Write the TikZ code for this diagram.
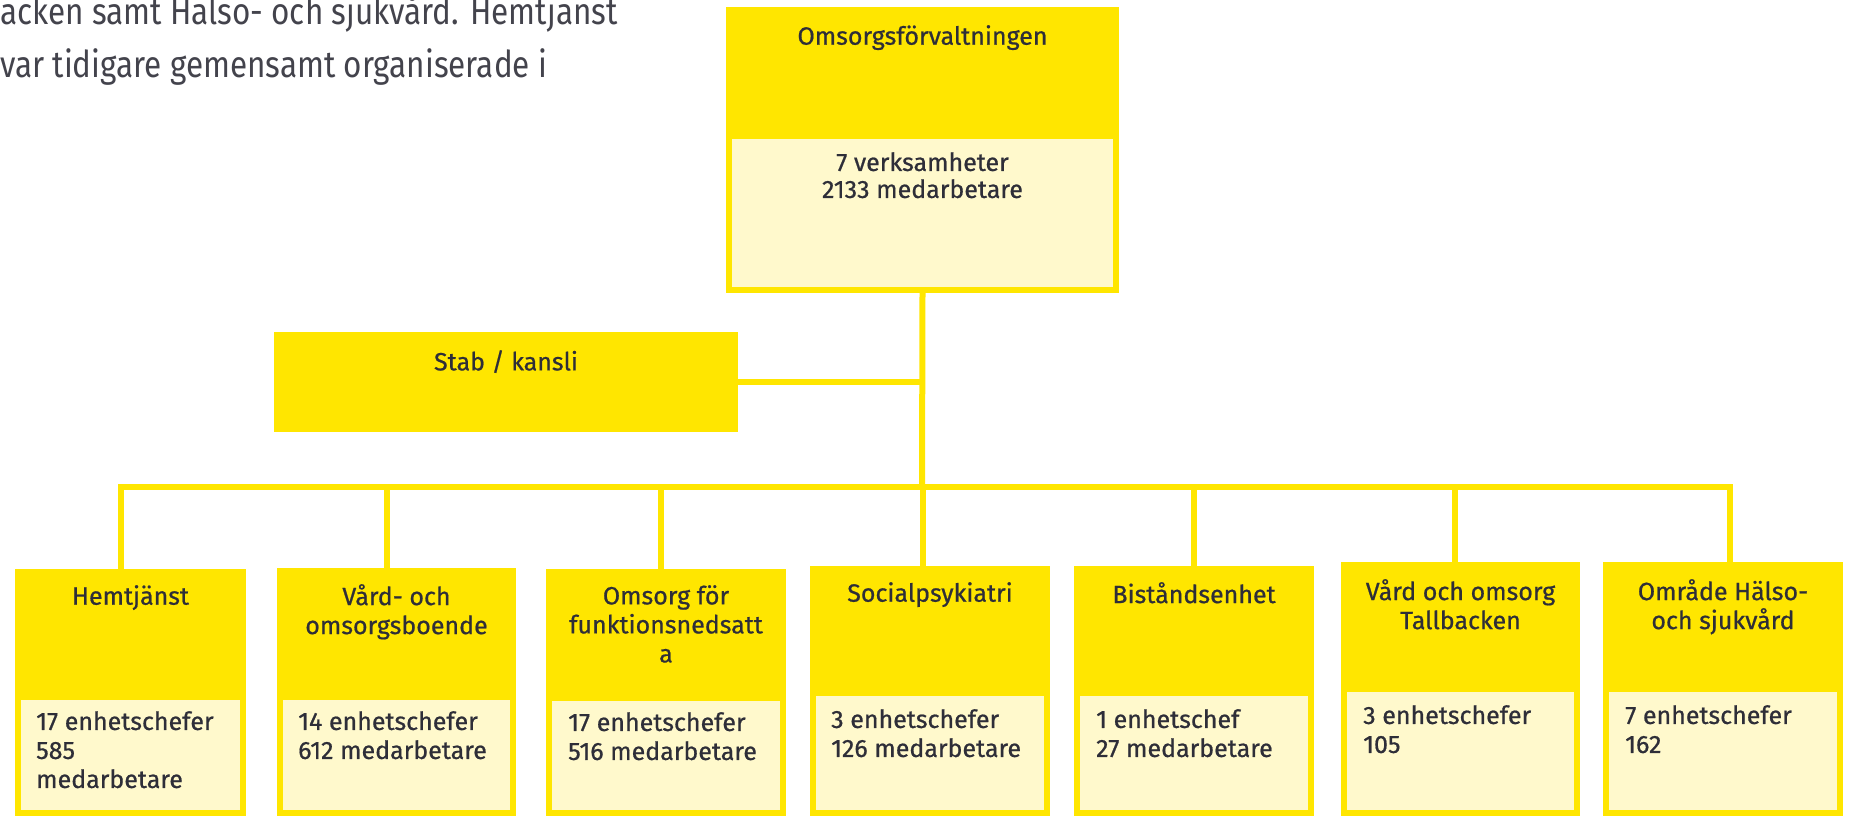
\documentclass[tikz,border=0pt]{standalone}
\usepackage{fontspec}
\setmainfont{Fira Sans}[FakeBold=0.7]
\newfontfamily\brodfont[FakeStretch=0.85]{Fira Sans}
\usetikzlibrary{positioning}
\definecolor{eygul}{HTML}{FFE600}
\definecolor{ljusgul}{HTML}{FFF9CC}
\definecolor{morkgra}{HTML}{2E2E38}
\newcommand\rutfont{\fontsize{25}{29}\selectfont}
\tikzset{
  ruta/.style={
    fill=eygul,
    anchor=north west,
    inner sep=0pt,
    outer sep=0pt
  },
  falt/.style={
    fill=ljusgul,
    draw=eygul,
    line width=6pt,
    anchor=north west,
    inner sep=0pt,
    outer sep=0pt
  },
  rubrik/.style={
    align=center,
    inner sep=0pt,
    text=morkgra,
    font=\rutfont
  },
  siffror/.style={
    align=left,
    inner sep=0pt,
    text=morkgra,
    font=\rutfont
  },
  brod/.style={
    anchor=base west,
    inner sep=0pt,
    text=morkgra!90,
    font=\brodfont\fontsize{37}{42}\selectfont
  },
  linje/.style={
    draw=eygul,
    line width=6pt
  }
}

\begin{document}
\begin{tikzpicture}[x=1pt,y=-1pt]
\useasboundingbox[fill=white] (0,0) rectangle (1853,818);

% brodtext
\node[brod] (rad1) at (0,25) {acken samt Hälso- och sjukvård. Hemtjänst};
\node[brod] (rad2) at (0,78) {var tidigare gemensamt organiserade i};

% forvaltningen
\node[ruta, minimum width=393pt, minimum height=286pt] (forv) at (726,7) {};
\node[falt, minimum width=387pt, minimum height=154pt] (forvf) at (729,136) {};
\node[rubrik, below=18pt of forv.north] (forvr) {Omsorgsförvaltningen};
\node[rubrik, font=\fontsize{25}{27}\selectfont, below=16pt of forvf.north] (forvs) {7 verksamheter\\2133 medarbetare};

\node[ruta, minimum width=464pt, minimum height=100pt] (stab) at (274,332) {};
\node[rubrik, below=18pt of stab.north] (stabr) {Stab / kansli};

% verksamheterna
\node[ruta, minimum width=231pt, minimum height=247pt] (hem) at (15,569) {};
\node[falt, minimum width=225pt, minimum height=116pt] (hemf) at (18,697) {};
\node[rubrik, below=16pt of hem.north] (hemr) {Hemtjänst};
\node[siffror, below right=14pt and 18pt of hemf.north west] (hems) {17 enhetschefer\\585\\medarbetare};

\node[ruta, minimum width=239pt, minimum height=248pt] (vob) at (277,568) {};
\node[falt, minimum width=233pt, minimum height=116pt] (vobf) at (280,697) {};
\node[rubrik, below=16pt of vob.north] (vobr) {Vård- och\\omsorgsboende};
\node[siffror, below right=14pt and 18pt of vobf.north west] (vobs) {14 enhetschefer\\612 medarbetare};

\node[ruta, minimum width=240pt, minimum height=247pt] (ofn) at (546,569) {};
\node[falt, minimum width=234pt, minimum height=115pt] (ofnf) at (549,698) {};
\node[rubrik, below=16pt of ofn.north] (ofnr) {Omsorg för\\funktionsnedsatt\\a};
\node[siffror, below right=14pt and 19pt of ofnf.north west] (ofns) {17 enhetschefer\\516 medarbetare};

\node[ruta, minimum width=240pt, minimum height=250pt] (sps) at (810,566) {};
\node[falt, minimum width=234pt, minimum height=120pt] (spsf) at (813,693) {};
\node[rubrik, below=16pt of sps.north] (spsr) {Socialpsykiatri};
\node[siffror, below right=16pt and 18pt of spsf.north west] (spss) {3 enhetschefer\\126 medarbetare};

\node[ruta, minimum width=240pt, minimum height=250pt] (bist) at (1074,566) {};
\node[falt, minimum width=234pt, minimum height=120pt] (bistf) at (1077,693) {};
\node[rubrik, below=16pt of bist.north] (bistr) {Biståndsenhet};
\node[siffror, below right=16pt and 19pt of bistf.north west] (bists) {1 enhetschef\\27 medarbetare};

\node[ruta, minimum width=239pt, minimum height=254pt] (tall) at (1341,562) {};
\node[falt, minimum width=233pt, minimum height=124pt] (tallf) at (1344,689) {};
\node[rubrik, below=17pt of tall.north] (tallr) {Vård och omsorg\\Tallbacken};
\node[siffror, below right=16pt and 19pt of tallf.north west] (talls) {3 enhetschefer\\105};

\node[ruta, minimum width=240pt, minimum height=254pt] (hso) at (1603,562) {};
\node[falt, minimum width=234pt, minimum height=124pt] (hsof) at (1606,689) {};
\node[rubrik, below=17pt of hso.north] (hsor) {Område Hälso-\\och sjukvård};
\node[siffror, below right=16pt and 19pt of hsof.north west] (hsos) {7 enhetschefer\\162};

% linjer
\coordinate (buss) at (922,487);
\draw[linje] (forv.south) -- (buss);
\draw[linje] (stab.east) -- (stab.east -| forv.south);
\draw[linje] (buss) -| ([xshift=-10pt]hem.north);
\draw[linje] (buss) -| ([xshift=-10pt]vob.north);
\draw[linje] (buss) -| ([xshift=-5pt]ofn.north);
\draw[linje] (buss) -| ([xshift=-7pt]sps.north);
\draw[linje] (buss) -| (bist.north);
\draw[linje] (buss) -| ([xshift=-6pt]tall.north);
\draw[linje] (buss) -| ([xshift=7pt]hso.north);
\end{tikzpicture}
\end{document}
